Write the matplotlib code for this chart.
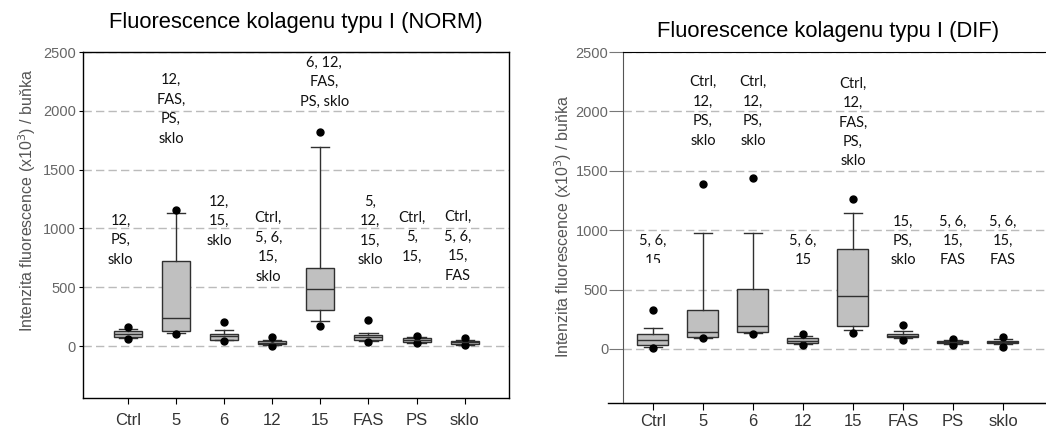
import matplotlib
matplotlib.use('Agg')
import matplotlib.pyplot as plt
from matplotlib.transforms import Bbox, TransformedBbox

# groups
categories = ['Ctrl', '5', '6', '12', '15', 'FAS', 'PS', 'sklo']

# NORM panel (x10^3 / cell)
norm_q1 = [74, 130, 55, 15, 303, 51, 31, 17]
norm_med = [99, 238, 85, 28, 485, 74, 50, 31]
norm_q3 = [130, 726, 105, 45, 663, 94, 65, 45]
norm_lo = [65, 108, 50, 8, 215, 40, 28, 12]
norm_hi = [147, 1128, 136, 55, 1695, 113, 75, 55]
norm_fliers = [[159, 60], [1154, 100], [207, 45], [80, 2], [1820, 173],
               [221, 31], [85, 23], [65, 6]]
norm_labels = ['12,\nPS,\nsklo', '12,\nFAS,\nPS,\nsklo', '12,\n15,\nsklo',
               'Ctrl,\n5, 6,\n15,\nsklo', '6, 12,\nFAS,\nPS, sklo',
               '5,\n12,\n15,\nsklo', 'Ctrl,\n5,\n15,', 'Ctrl,\n5, 6,\n15,\nFAS']

# DIF panel
dif_q1 = [34, 104, 143, 48, 196, 99, 48, 48]
dif_med = [76, 140, 194, 70, 449, 110, 58, 58]
dif_q3 = [126, 326, 502, 90, 839, 122, 68, 70]
dif_lo = [20, 95, 135, 38, 160, 95, 42, 40]
dif_hi = [180, 974, 974, 108, 1142, 152, 75, 85]
dif_fliers = [[328, 11], [1389, 90], [1437, 126], [124, 34], [1260, 137],
              [202, 76], [81, 34], [104, 19]]
dif_labels = ['5, 6,\n15', 'Ctrl,\n12,\nPS,\nsklo', 'Ctrl,\n12,\nPS,\nsklo',
              '5, 6,\n15', 'Ctrl,\n12,\nFAS,\nPS,\nsklo', '15,\nPS,\nsklo',
              '5, 6,\n15,\nFAS', '5, 6,\n15,\nFAS']

# where the significance text blocks sit (centre y, x shift)
norm_lab_y = [901, 2011, 1063, 838, 2245, 978, 927, 846]
norm_lab_dx = [-0.15, -0.1, -0.1, -0.08, 0.08, 0.04, -0.1, -0.15]
dif_lab_y = [825, 1999, 1999, 829, 1907, 909, 909, 909]

ANNOT_FONT = ['Lato', 'DejaVu Sans']
AX_FONT = ['Liberation Sans', 'DejaVu Sans']
plt.rcParams['font.family'] = AX_FONT


def make_stats(q1, med, q3, lo, hi, fliers):
    out = []
    for i in range(len(q1)):
        out.append(dict(q1=q1[i], med=med[i], q3=q3[i], whislo=lo[i],
                        whishi=hi[i], fliers=fliers[i]))
    return out


def draw_panel(ax, stats, width, capw):
    pos = list(range(len(categories)))
    ax.bxp(stats, positions=pos, widths=width, capwidths=capw, patch_artist=True,
           showfliers=True,
           boxprops=dict(facecolor='#c0c0c0', edgecolor='#303030', linewidth=1.0),
           medianprops=dict(color='#303030', linewidth=1.0),
           whiskerprops=dict(color='#303030', linewidth=1.0),
           capprops=dict(color='#303030', linewidth=1.0),
           flierprops=dict(marker='o', markerfacecolor='black', markeredgecolor='black',
                           markersize=5, linestyle='none'))
    ax.set_xticks(pos)
    ax.set_xticklabels(categories, fontsize=12, color='#333333')
    ax.set_yticks([0, 500, 1000, 1500, 2000, 2500])
    ax.tick_params(axis='y', labelsize=10.5, labelcolor='#666666')
    ax.yaxis.grid(True, color='#bbbbbb', linestyle=(0, (6, 3)), linewidth=1.0)
    ax.set_axisbelow(True)


def put_labels(ax, labels, ys, dxs):
    texts = []
    for i, txt in enumerate(labels):
        texts.append(ax.text(i + dxs[i], ys[i], txt, ha='center', va='center',
                             multialignment='center', fontsize=10.5, family=ANNOT_FONT,
                             linespacing=1.5, color='#111111'))
    return texts


fig = plt.figure(figsize=(10.46, 4.32), dpi=100)

# ---- left: NORM
ax1 = fig.add_axes([0.0793, 0.0787, 0.4073, 0.8009])
draw_panel(ax1, make_stats(norm_q1, norm_med, norm_q3, norm_lo, norm_hi, norm_fliers),
           0.58, 0.38)
ax1.set_xlim(-0.93, 7.92)
ax1.set_ylim(-442, 2500)
ax1.tick_params(axis='y', direction='out', length=3, pad=2)
ax1.tick_params(axis='x', direction='out', length=4, pad=7)
for s in ax1.spines.values():
    s.set_linewidth(1.0)
ax1.set_title('Fluorescence kolagenu typu I (NORM)', fontsize=15.8, pad=17)
put_labels(ax1, norm_labels, norm_lab_y, norm_lab_dx)

# ---- right: DIF
ax2 = fig.add_axes([0.5956, 0.0671, 0.4044, 0.8125])
draw_panel(ax2, make_stats(dif_q1, dif_med, dif_q3, dif_lo, dif_hi, dif_fliers),
           0.62, 0.35)
ax2.set_xlim(-0.6, 7.86)
ax2.set_ylim(-455, 2500)
ax2.spines['right'].set_visible(False)
ax2.spines['left'].set_color('#555555')
ax2.tick_params(axis='y', direction='out', length=10, pad=0.5, color='#777777')
ax2.tick_params(axis='x', direction='out', length=5, pad=3)
# bottom rule runs a little left of the y axis in the original
ax2.plot([-0.036, 1.0], [0, 0], transform=ax2.transAxes, color='black',
         linewidth=1.0, clip_on=False)
ax2.set_title('Fluorescence kolagenu typu I (DIF)', fontsize=15.8, pad=11, x=0.485)
dtexts = put_labels(ax2, dif_labels, dif_lab_y, [0] * len(dif_labels))
# the "15" under Ctrl is cut off in the source
dtexts[0].set_clip_box(TransformedBbox(Bbox([[-0.6, 724], [7.86, 2500]]), ax2.transData))
dtexts[0].set_clip_on(True)

ylab = 'Intenzita fluorescence (x10$^{3}$) / buňka'
fig.text(0.026, 0.537, ylab, rotation=90, ha='center', va='center',
         fontsize=11.5, color='#555555')
fig.text(0.538, 0.475, ylab, rotation=90, ha='center', va='center',
         fontsize=11.5, color='#555555')

fig.savefig('out.png', dpi=100)
